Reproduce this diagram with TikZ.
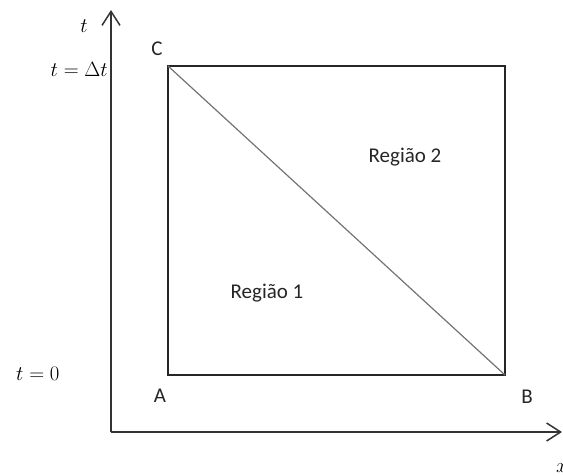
\documentclass[tikz,border=0pt]{standalone}
\usepackage{fontspec}
\setmainfont{Carlito}
\usetikzlibrary{arrows.meta}
\begin{document}
\begin{tikzpicture}[x=1pt,y=-1pt,
  axis/.style={line width=1.5pt,draw=black!80,-{Straight Barb[length=14pt,width=18pt,line width=1.5pt]}},
  box/.style={line width=1.5pt,draw=black!85},
  diag/.style={line width=1.2pt,draw=black!55},
  lbl/.style={font=\fontsize{21}{25}\selectfont,text=black!85,inner sep=0pt},
  mlbl/.style={font=\fontsize{22}{26}\selectfont,inner sep=0pt}]
\useasboundingbox (0,0) rectangle (563,475);
\coordinate (O) at (111,432);
\coordinate (ytop) at (111,10);
\coordinate (xend) at (562,432);
\draw[axis] (O) -- (ytop);
\draw[axis] (O) -- (xend);
\coordinate (A) at (168,375);
\coordinate (B) at (505,375);
\coordinate (C) at (168,66);
\coordinate (D) at (505,66);
\draw[box] (A) -- (B) -- (D) -- (C) -- cycle;
\draw[diag] (C) -- (B);
\node[lbl] (lC) at (157,49) {C};
\node[lbl] (lA) at (160,396) {A};
\node[lbl] (lB) at (527,397) {B};
\node[lbl] (r2) at (405,157) {Região 2};
\node[lbl] (r1) at (267,293) {Região 1};
\node[mlbl] (lt) at (84,26) {$t$};
\node[mlbl,anchor=east] (ldt) at (108,69) {$t=\Delta t$};
\node[mlbl,anchor=west] (l0) at (16,374) {$t=0$};
\node[mlbl,anchor=west] (lx) at (556,468) {$x$};
\end{tikzpicture}
\end{document}
